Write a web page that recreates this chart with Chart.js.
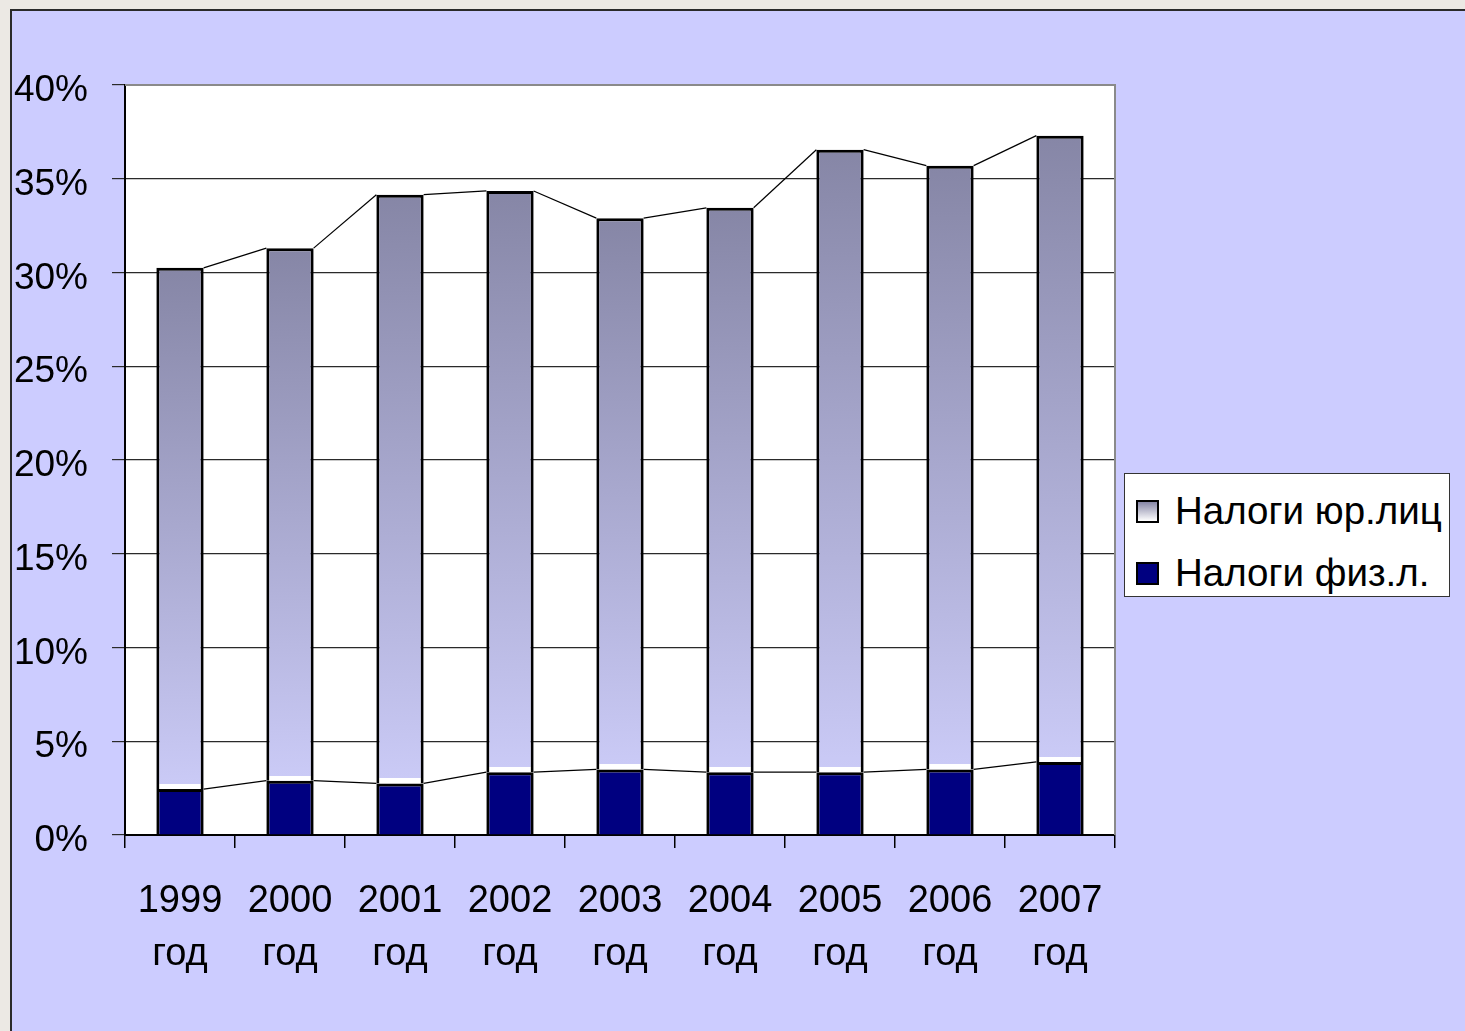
<!DOCTYPE html>
<html>
<head>
<meta charset="utf-8">
<script src="https://cdn.jsdelivr.net/npm/chart.js@4/dist/chart.umd.min.js"></script>
<style>
  html, body { margin:0; padding:0; width:1465px; height:1031px; overflow:hidden; background:#ECE9E4; }
  #frame { position:absolute; left:10px; top:9px; width:1455px; height:1022px; background:#CCCCFF;
           border-top:2px solid #2a2a2a; border-left:2px solid #2a2a2a; box-sizing:border-box; }
  #wrap { position:absolute; left:0; top:0; width:1465px; height:1031px; }
  #legend { position:absolute; left:1124px; top:473px; width:326px; height:124px; background:#fff;
            border:1.5px solid #333; box-sizing:border-box; font-family:Arial, "Liberation Sans", sans-serif;
            font-size:38.5px; color:#000; }
  .item { position:absolute; left:11px; height:40px; display:flex; align-items:center; white-space:nowrap; }
  .mk { width:23px; height:23px; border:2px solid #000; box-sizing:border-box; margin-right:16px; }
</style>
</head>
<body>
<div id="frame"></div>
<div id="wrap"><canvas id="c" width="1465" height="1031"></canvas></div>
<div id="legend"></div>
<script>
const categories = [['1999','год'],['2000','год'],['2001','год'],['2002','год'],['2003','год'],['2004','год'],['2005','год'],['2006','год'],['2007','год']];
const seriesNames = ['Налоги юр.лиц', 'Налоги физ.л.'];
const fizValues = [2.45, 2.9, 2.75, 3.35, 3.5, 3.35, 3.35, 3.5, 3.9];
const yurValues = [27.8, 28.4, 31.4, 31.0, 29.4, 30.1, 33.2, 32.2, 33.4];
const yTicks = [0, 5, 10, 15, 20, 25, 30, 35, 40];

const FONT = 'Arial, "Liberation Sans", sans-serif';
const NAVY = '#000080';
const GRAD_TOP = '#8686A6';
const GRAD_BOT = '#CACAF6';

function yurGradient(c) {
  const chart = c.chart;
  if (c.type !== 'data' || !chart.chartArea) return GRAD_BOT;
  const ys = chart.scales.y;
  const i = c.dataIndex;
  const base = fizValues[i];
  const top = base + yurValues[i];
  const yTop = ys.getPixelForValue(top);
  const yBot = ys.getPixelForValue(base);
  const h = Math.max(1, yBot - yTop);
  const g = chart.ctx.createLinearGradient(0, yTop, 0, yBot);
  g.addColorStop(0, GRAD_TOP);
  const gapStart = Math.max(0, 1 - 5 / h);
  g.addColorStop(gapStart, GRAD_BOT);
  g.addColorStop(Math.min(1, gapStart + 0.0001), '#FFFFFF');
  g.addColorStop(1, '#FFFFFF');
  return g;
}

const plotBg = {
  id: 'plotBg',
  beforeDraw(chart) {
    const {ctx, chartArea: a} = chart;
    ctx.save();
    ctx.fillStyle = '#FFFFFF';
    ctx.fillRect(a.left, a.top, a.right - a.left, a.bottom - a.top);
    ctx.restore();
  },
  afterDraw(chart) {
    const {ctx, chartArea: a} = chart;
    ctx.save();
    ctx.strokeStyle = '#8a8a8a';
    ctx.lineWidth = 2;
    ctx.beginPath();
    ctx.moveTo(a.left, a.top);
    ctx.lineTo(a.right, a.top);
    ctx.lineTo(a.right, a.bottom);
    ctx.stroke();
    ctx.restore();
  }
};

const seriesLines = {
  id: 'seriesLines',
  afterDatasetsDraw(chart) {
    const ctx = chart.ctx;
    ctx.save();
    ctx.strokeStyle = '#000';
    ctx.lineWidth = 1.2;
    chart.data.datasets.forEach((ds, di) => {
      const els = chart.getDatasetMeta(di).data;
      for (let i = 0; i < els.length - 1; i++) {
        const a = els[i], b = els[i + 1];
        ctx.beginPath();
        ctx.moveTo(a.x + a.width / 2, a.y);
        ctx.lineTo(b.x - b.width / 2, b.y);
        ctx.stroke();
      }
    });
    ctx.restore();
  }
};

const chart = new Chart(document.getElementById('c'), {
  type: 'bar',
  data: {
    labels: categories,
    datasets: [
      { label: seriesNames[1], data: fizValues, backgroundColor: NAVY, borderColor: '#000',
        borderWidth: {top: 3, left: 3, right: 3, bottom: 0}, borderSkipped: false },
      { label: seriesNames[0], data: yurValues, backgroundColor: yurGradient, borderColor: '#000',
        borderWidth: {top: 3, left: 3, right: 3, bottom: 0}, borderSkipped: false }
    ]
  },
  options: {
    responsive: false,
    animation: false,
    layout: { padding: { left: 0, top: 85, right: 350, bottom: 0 } },
    datasets: { bar: { barPercentage: 0.43, categoryPercentage: 1.0, inflateAmount: 0 } },
    plugins: { legend: { display: false }, tooltip: { enabled: false } },
    scales: {
      x: {
        stacked: true,
        afterFit(s) { s.height = 1031 - 835; },
        grid: { display: true, offset: true, drawOnChartArea: false, drawTicks: true, tickLength: 13, color: '#000', lineWidth: 1.5 },
        border: { display: true, color: '#000', width: 2 },
        ticks: { color: '#000', font: { family: FONT, size: 38, lineHeight: 1.4 }, padding: 27, maxRotation: 0, autoSkip: false },
      },
      y: {
        stacked: true,
        min: 0, max: 40,
        afterFit(s) { s.width = 125; },
        afterBuildTicks(s) { s.ticks = yTicks.map(v => ({ value: v })); },
        grid: { color: '#2a2a2a', lineWidth: 1.2, tickLength: 13, drawTicks: true },
        border: { display: true, color: '#000', width: 2 },
        ticks: { color: '#000', font: { family: FONT, size: 37 }, padding: 24, labelOffset: 6, callback: v => v + '%' }
      }
    }
  },
  plugins: [plotBg, seriesLines]
});

// HTML legend built from the chart's datasets
const leg = document.getElementById('legend');
const legendOrder = [1, 0];
legendOrder.forEach((di, k) => {
  const ds = chart.data.datasets[di];
  const it = document.createElement('div');
  it.className = 'item';
  it.style.top = (17 + k * 62) + 'px';
  const mk = document.createElement('div');
  mk.className = 'mk';
  mk.style.background = di === 0 ? NAVY : 'linear-gradient(' + GRAD_TOP + ', #ffffff)';
  const tx = document.createElement('span');
  tx.textContent = ds.label;
  it.appendChild(mk); it.appendChild(tx);
  leg.appendChild(it);
});
</script>
</body>
</html>
